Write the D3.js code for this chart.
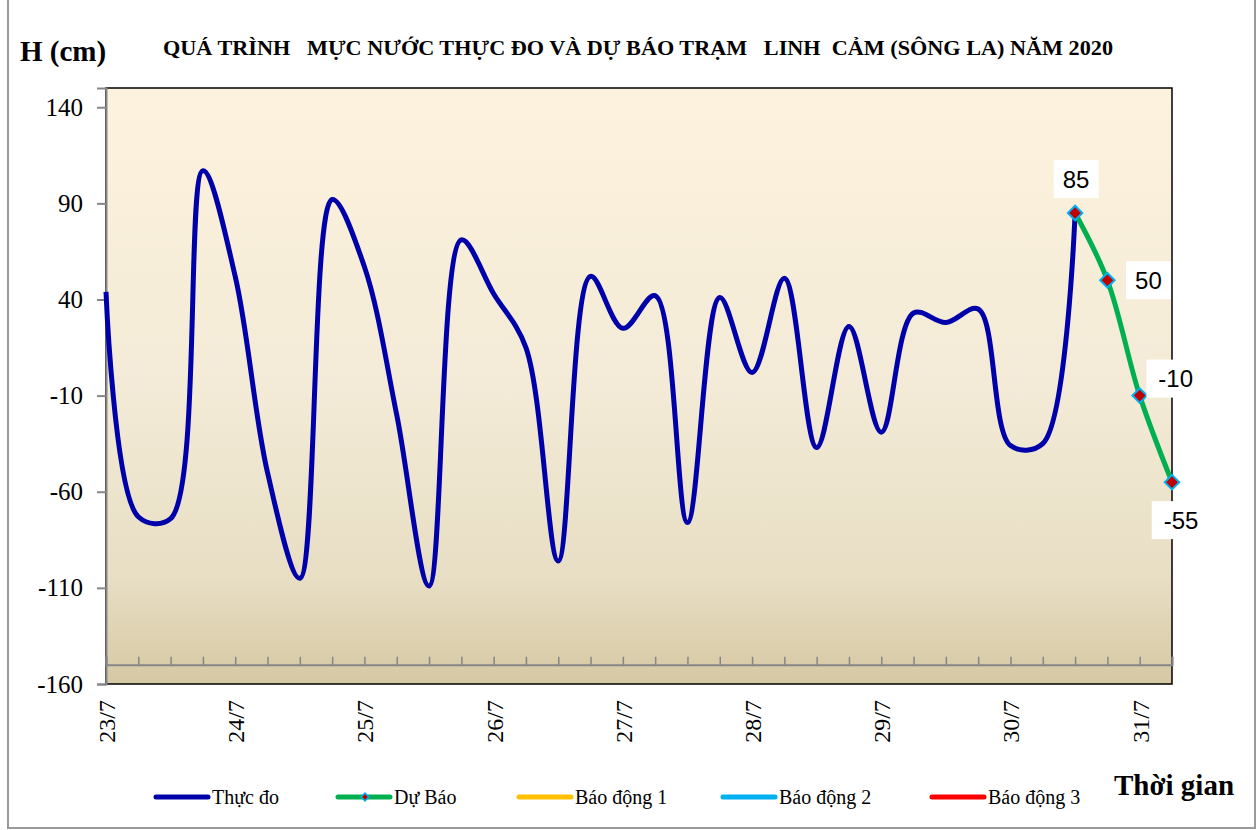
<!DOCTYPE html>
<html>
<head>
<meta charset="utf-8">
<script src="https://cdn.jsdelivr.net/npm/d3@7"></script>
<style>
  body { margin: 0; background: #fff; }
  svg { display: block; }
</style>
</head>
<body>
<div id="chart"></div>
<script>
// days on the x axis, 4 readings per day (6h step)
const days = ["23/7", "24/7", "25/7", "26/7", "27/7", "28/7", "29/7", "30/7", "31/7"];
const slots = ["a", "b", "c", "d"];
const categories = days.flatMap(d => slots.map(s => d + "|" + s)).slice(0, 34);

// water level, cm
const observed = [44, -73, -74, 107, 52, -50, -105, 92, 57, -20, -109, 71, 43, 15, -96, 52, 25, 42, -76, 41, 2, 51, -37, 26, -29, 33, 28, 35, -36, -35, 85];
const forecast = [85, 50, -10, -55];
const forecastStart = 30;

const yTicks = [-160, -110, -60, -10, 40, 90, 140];
const legendItems = ["Thực đo", "Dự Báo", "Báo động 1", "Báo động 2", "Báo động 3"];
const legendColors = ["#0000AA", "#00B050", "#FFC000", "#00B0F0", "#FF0000"];

const W = 1259, H = 830;
const plotL = 106, plotR = 1172, plotT = 88, plotB = 684;
const serif = "'Liberation Serif', 'Times New Roman', serif";

const svg = d3.select("#chart").append("svg")
    .attr("width", W)
    .attr("height", H)
    .attr("viewBox", `0 0 ${W} ${H}`);

//gradient for plot area
const defs = svg.append("defs");
const grad = defs.append("linearGradient")
    .attr("id", "bg")
    .attr("x1", 0).attr("y1", 0).attr("x2", 0).attr("y2", 1);
[[0, "#FDF2DE"], [0.5, "#F3EBD7"], [0.82, "#E8DEC4"], [1, "#D6C8A3"]].forEach(s =>
    grad.append("stop").attr("offset", s[0]).attr("stop-color", s[1]));

//outer frame
svg.append("rect")
    .attr("x", 8).attr("y", -4)
    .attr("width", 1247).attr("height", 832)
    .style("fill", "none")
    .style("stroke", "#9a9a9a")
    .style("stroke-width", 2);

const x = d3.scalePoint().domain(categories).range([plotL, plotR]);
const y = d3.scaleLinear().domain([-160, 150]).range([plotB, plotT]);

//plot area
svg.append("rect")
    .attr("x", plotL).attr("y", plotT)
    .attr("width", plotR - plotL).attr("height", plotB - plotT)
    .style("fill", "url(#bg)")
    .style("stroke", "#000")
    .style("stroke-width", 1.5);

//category axis crossing at -150
const catAxis = svg.append("g")
    .attr("transform", `translate(0,${y(-150)})`)
    .call(d3.axisBottom(x).tickSize(-8).tickFormat(""));
catAxis.select(".domain").attr("stroke", "#868686").attr("stroke-width", 2);
catAxis.selectAll(".tick line").attr("stroke", "#868686").attr("stroke-width", 1.5);

//date labels below plot
const labelAxis = svg.append("g")
    .attr("transform", `translate(0,${plotB})`)
    .call(d3.axisBottom(x).tickSize(0)
        .tickValues(categories.filter(c => c.endsWith("|a")))
        .tickFormat(c => c.split("|")[0]));
labelAxis.select(".domain").remove();
labelAxis.selectAll("text")
    .attr("transform", "rotate(-90)")
    .attr("text-anchor", "end")
    .attr("x", -16)
    .attr("y", 0)
    .attr("dy", "0.35em")
    .style("font-family", serif)
    .style("font-size", "24px")
    .style("fill", "#000");

//y axis
const yAxis = svg.append("g")
    .attr("transform", `translate(${plotL},0)`)
    .call(d3.axisLeft(y).tickValues(yTicks).tickSize(9).tickPadding(14).tickFormat(d => String(d)));
yAxis.select(".domain").attr("stroke", "#868686").attr("stroke-width", 2);
yAxis.selectAll(".tick line").attr("stroke", "#868686").attr("stroke-width", 2);
yAxis.selectAll("text")
    .style("font-family", serif)
    .style("font-size", "25px")
    .style("fill", "#000");

//lines
const line = d3.line()
    .x(d => x(categories[d.i]))
    .y(d => y(d.v))
    .curve(d3.curveCatmullRom.alpha(0.5));

const obsPts = observed.map((v, i) => ({ i, v }));
const fcPts = forecast.map((v, k) => ({ i: forecastStart + k, v }));

svg.append("path")
    .datum(obsPts)
    .attr("d", line)
    .style("fill", "none")
    .style("stroke", legendColors[0])
    .style("stroke-width", 5)
    .style("stroke-linejoin", "round");

svg.append("path")
    .datum(fcPts)
    .attr("d", line)
    .style("fill", "none")
    .style("stroke", legendColors[1])
    .style("stroke-width", 5)
    .style("stroke-linejoin", "round");

const diamond = d3.symbol().type(d3.symbolSquare).size(105);
svg.selectAll(".marker")
    .data(fcPts)
    .join("path")
    .attr("class", "marker")
    .attr("d", diamond)
    .attr("transform", d => `translate(${x(categories[d.i])},${y(d.v)}) rotate(45)`)
    .style("fill", "#C00000")
    .style("stroke", "#00B0F0")
    .style("stroke-width", 2);

//data labels
const labelShift = [[1, -34], [41, 0], [36, -17], [9, 38]];
fcPts.forEach((d, k) => {
    const cx = x(categories[d.i]) + labelShift[k][0];
    const cy = y(d.v) + labelShift[k][1];
    const txt = String(d.v);
    const bw = txt.length * 13.5 + 18, bh = 38;
    svg.append("rect")
        .attr("x", cx - bw / 2).attr("y", cy - bh / 2)
        .attr("width", bw).attr("height", bh)
        .style("fill", "#fff");
    svg.append("text")
        .attr("x", cx).attr("y", cy)
        .attr("dy", "0.36em")
        .attr("text-anchor", "middle")
        .style("font-family", "'Liberation Sans', Arial, sans-serif")
        .style("font-size", "24px")
        .text(txt);
});

//titles
svg.append("text")
    .attr("x", 20).attr("y", 61)
    .style("font-family", serif)
    .style("font-size", "29px")
    .style("font-weight", "bold")
    .text("H (cm)");

svg.append("text")
    .attr("x", 163).attr("y", 55)
    .attr("textLength", 950)
    .attr("lengthAdjust", "spacingAndGlyphs")
    .style("white-space", "pre")
    .style("font-family", serif)
    .style("font-size", "20px")
    .style("font-weight", "bold")
    .text("QUÁ TRÌNH   MỰC NƯỚC THỰC ĐO VÀ DỰ BÁO TRẠM   LINH  CẢM (SÔNG LA) NĂM 2020");

svg.append("text")
    .attr("x", 1114).attr("y", 795)
    .style("font-family", serif)
    .style("font-size", "29px")
    .style("font-weight", "bold")
    .text("Thời gian");

//legend
const legendX = [154, 336, 517, 721, 930];
const legend = svg.append("g");
legendItems.forEach((name, k) => {
    const g = legend.append("g").attr("transform", `translate(${legendX[k]},797)`);
    g.append("line")
        .attr("x1", 2).attr("x2", 54)
        .style("stroke", legendColors[k])
        .style("stroke-width", 5)
        .style("stroke-linecap", "round");
    if (k === 1) {
        g.append("path")
            .attr("d", d3.symbol().type(d3.symbolSquare).size(30))
            .attr("transform", "translate(29,0) rotate(45)")
            .style("fill", "#C00000")
            .style("stroke", "#00B0F0")
            .style("stroke-width", 1.5);
    }
    g.append("text")
        .attr("x", 58).attr("y", 7)
        .style("font-family", serif)
        .style("font-size", "20px")
        .text(name);
});
</script>
</body>
</html>
